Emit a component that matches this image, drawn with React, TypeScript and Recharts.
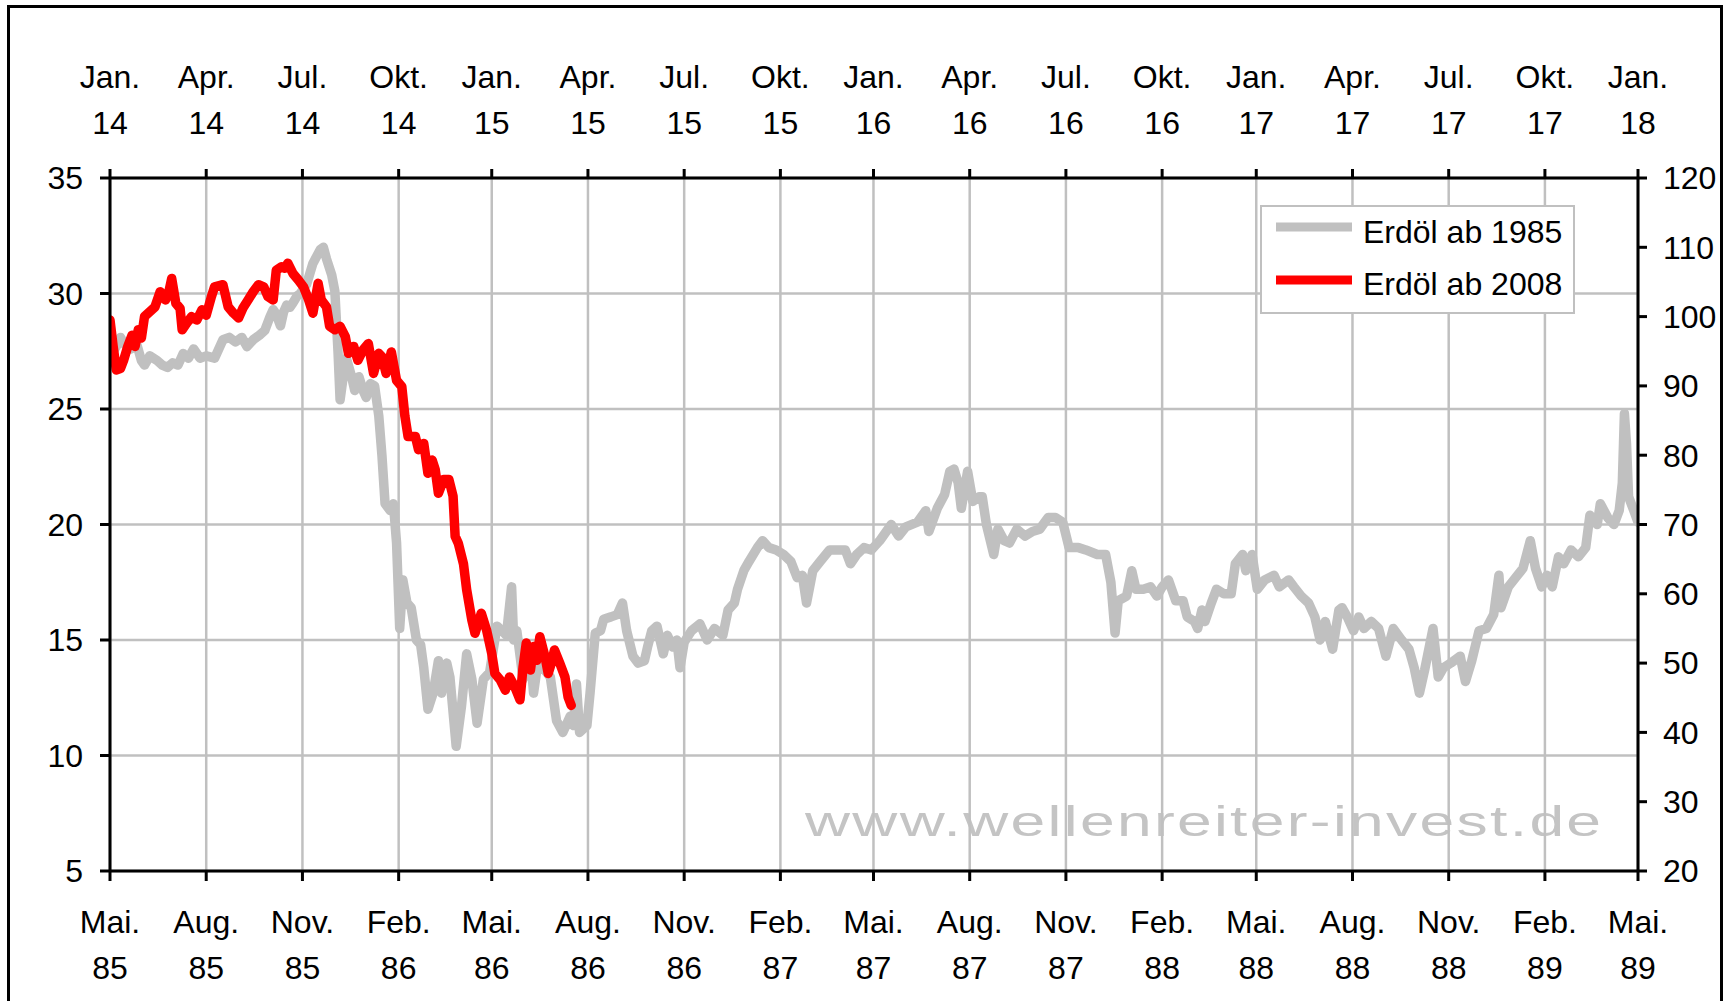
import React from "react";
import { LineChart, Line, XAxis, YAxis, CartesianGrid, Legend } from "recharts";

const FONT = '"Liberation Sans", Arial, Helvetica, sans-serif';
const WIDTH = 1729;
const HEIGHT = 1001;

// quarterly ticks, in days after the first tick (Mai 85 below, Jan. 14 on top)
const TICK_DAYS = [0, 92, 184, 276, 365, 457, 549, 641, 730, 822, 914, 1006, 1096, 1188, 1280, 1372, 1461];
const BOTTOM_MONTHS = ["Mai.", "Aug.", "Nov.", "Feb.", "Mai.", "Aug.", "Nov.", "Feb.", "Mai.", "Aug.", "Nov.", "Feb.", "Mai.", "Aug.", "Nov.", "Feb.", "Mai."];
const BOTTOM_YEARS = ["85", "85", "85", "86", "86", "86", "86", "87", "87", "87", "87", "88", "88", "88", "88", "89", "89"];
const TOP_MONTHS = ["Jan.", "Apr.", "Jul.", "Okt.", "Jan.", "Apr.", "Jul.", "Okt.", "Jan.", "Apr.", "Jul.", "Okt.", "Jan.", "Apr.", "Jul.", "Okt.", "Jan."];
const TOP_YEARS = ["14", "14", "14", "14", "15", "15", "15", "15", "16", "16", "16", "16", "17", "17", "17", "17", "18"];
const LEFT_TICKS = [5, 10, 15, 20, 25, 30, 35];
const RIGHT_TICKS = [20, 30, 40, 50, 60, 70, 80, 90, 100, 110, 120];

// Erdöl ab 1985 (left axis), day offsets from 1 May 1985
const OIL85_DAYS = [
  0, 6, 10, 14, 20, 25, 30, 33, 38, 45,
  50, 55, 60, 65, 70, 75, 80, 86, 92, 100,
  104, 108, 114, 120, 126, 131, 137, 143, 148, 153,
  156, 159, 163, 166, 169, 172, 175, 179, 182, 188,
  194, 201, 204, 207, 212, 215, 218, 220, 223, 226,
  231, 234, 238, 242, 245, 249, 253, 257, 260, 263,
  268, 271, 274, 277, 280, 284, 288, 293, 297, 300,
  304, 309, 314, 317, 322, 325, 331, 336, 341, 346,
  351, 357, 363, 370, 375, 379, 384, 386, 389, 395,
  402, 405, 410, 414, 421, 427, 433, 440, 443, 446,
  449, 456, 459, 464, 469, 472, 479, 485, 490, 494,
  500, 505, 511, 514, 518, 523, 529, 533, 538, 542,
  545, 549, 556, 564, 571, 578, 586, 591, 597, 600,
  606, 611, 619, 624, 630, 637, 644, 651, 657, 662,
  666, 672, 679, 688, 695, 703, 708, 714, 721, 728,
  736, 747, 754, 761, 772, 780, 783, 791, 798, 803,
  807, 811, 814, 820, 825, 831, 834, 838, 845, 849,
  855, 860, 867, 875, 882, 889, 897, 904, 911, 917,
  926, 933, 944, 952, 957, 961, 964, 972, 977, 981,
  988, 995, 1001, 1006, 1012, 1019, 1026, 1030, 1037, 1040,
  1044, 1047, 1053, 1058, 1065, 1072, 1076, 1083, 1086, 1092,
  1097, 1104, 1113, 1118, 1127, 1132, 1139, 1146, 1152, 1157,
  1162, 1169, 1175, 1178, 1183, 1189, 1194, 1199, 1206, 1213,
  1220, 1227, 1235, 1242, 1247, 1252, 1257, 1265, 1270, 1275,
  1282, 1291, 1296, 1302, 1309, 1316, 1323, 1328, 1330, 1337,
  1344, 1351, 1358, 1363, 1369, 1374, 1379, 1385, 1390, 1397,
  1404, 1411, 1415, 1422, 1425, 1432, 1438, 1443, 1446, 1448,
  1450, 1452, 1457, 1461,
];
const OIL85_VALUES = [
  27.3, 27.7, 28.1, 27.8, 27.6, 27.9, 27.1, 26.9, 27.3, 27.1,
  26.9, 26.8, 27.0, 26.9, 27.4, 27.2, 27.6, 27.2, 27.3, 27.2,
  27.6, 28.0, 28.1, 27.9, 28.1, 27.7, 28.0, 28.2, 28.4, 29.0,
  29.3, 29.1, 28.6, 29.2, 29.5, 29.4, 29.6, 29.9, 30.0, 30.4,
  31.3, 31.9, 32.0, 31.5, 30.8, 30.1, 27.5, 25.4, 26.4, 27.2,
  26.4, 25.8, 26.4, 25.8, 25.5, 26.1, 26.0, 24.7, 23.0, 20.9,
  20.6, 20.9, 19.2, 15.5, 17.6, 16.6, 16.4, 15.0, 14.8, 13.8,
  12.0, 12.7, 14.1, 12.7, 14.0, 13.4, 10.4, 12.1, 14.4, 13.3,
  11.4, 13.3, 13.6, 15.6, 15.4, 15.2, 17.3, 15.0, 15.4, 13.3,
  14.4, 12.7, 14.3, 13.8, 13.4, 11.5, 11.0, 11.7, 11.3, 13.1,
  11.0, 11.3, 12.7, 15.3, 15.4, 15.9, 16.0, 16.1, 16.6, 15.4,
  14.3, 14.0, 14.1, 14.7, 15.4, 15.6, 14.4, 15.2, 14.7, 15.0,
  13.8, 14.9, 15.4, 15.7, 15.0, 15.5, 15.2, 16.3, 16.6, 17.2,
  18.0, 18.4, 19.0, 19.3, 19.0, 18.9, 18.7, 18.4, 17.7, 17.8,
  16.6, 18.0, 18.4, 18.9, 18.9, 18.9, 18.3, 18.7, 19.0, 18.9,
  19.3, 20.0, 19.5, 19.9, 20.1, 20.6, 19.7, 20.7, 21.3, 22.3,
  22.4, 21.8, 20.7, 22.3, 21.0, 21.2, 21.2, 20.0, 18.7, 19.8,
  19.3, 19.2, 19.8, 19.5, 19.7, 19.8, 20.3, 20.3, 20.1, 19.0,
  19.0, 18.9, 18.7, 18.7, 17.5, 15.3, 16.7, 16.9, 18.0, 17.2,
  17.2, 17.3, 16.9, 17.3, 17.6, 16.7, 16.7, 16.0, 15.8, 15.5,
  16.3, 15.8, 16.6, 17.2, 17.0, 17.0, 18.3, 18.7, 18.0, 18.7,
  17.2, 17.6, 17.8, 17.3, 17.6, 17.3, 16.9, 16.6, 16.0, 15.0,
  15.8, 14.6, 16.3, 16.4, 16.0, 15.4, 16.0, 15.5, 15.8, 15.5,
  14.3, 15.5, 15.0, 14.6, 13.8, 12.7, 13.7, 15.5, 13.4, 13.8,
  14.0, 14.3, 13.2, 14.1, 15.4, 15.5, 16.1, 17.8, 16.4, 17.3,
  17.7, 18.1, 19.3, 18.1, 17.3, 17.8, 17.3, 18.6, 18.3, 18.9,
  18.6, 19.0, 20.4, 20.0, 20.9, 20.3, 20.0, 20.6, 21.8, 24.8,
  23.5, 21.2, 20.6, 20.1,
];

// Erdöl ab 2008 (right axis), day offsets from 1 Jan 2014
const OIL08_DAYS = [
  0, 3, 6, 10, 13, 17, 21, 24, 27, 30,
  33, 38, 43, 48, 53, 56, 59, 63, 67, 69,
  73, 78, 83, 88, 92, 97, 100, 108, 113, 118,
  123, 127, 132, 137, 142, 147, 151, 156, 159, 164,
  167, 170, 175, 180, 185, 190, 194, 199, 202, 207,
  210, 215, 220, 225, 228, 233, 237, 242, 247, 252,
  257, 260, 264, 269, 274, 279, 282, 285, 292, 295,
  300, 304, 308, 311, 314, 319, 324, 328, 330, 333,
  338, 341, 346, 349, 352, 355, 360, 365, 368, 373,
  378, 382, 387, 392, 395, 398, 402, 405, 408, 411,
  416, 419, 422, 425, 430, 435, 438, 441,
];
const OIL08_VALUES = [
  99.5, 95.7, 92.3, 92.5, 93.7, 95.7, 97.3, 95.7, 98.1, 96.9,
  100.0, 100.7, 101.4, 103.6, 102.4, 103.4, 105.5, 101.9, 101.2, 98.1,
  99.0, 100.0, 99.5, 101.0, 100.2, 102.9, 104.3, 104.6, 101.4, 100.5,
  99.8, 101.2, 102.4, 103.6, 104.6, 104.3, 102.9, 102.4, 106.7, 107.2,
  107.0, 107.7, 106.2, 105.3, 104.3, 102.4, 100.5, 104.8, 102.4, 101.4,
  98.6, 98.1, 98.6, 97.1, 94.7, 95.7, 93.7, 95.2, 96.1, 91.8,
  94.7, 94.2, 91.8, 94.9, 90.8, 89.9, 85.6, 82.7, 82.7, 80.8,
  81.7, 77.4, 79.3, 77.9, 74.5, 76.5, 76.5, 74.1, 68.3, 67.3,
  64.3, 60.6, 56.2, 54.3, 55.8, 57.2, 54.8, 51.4, 48.5, 47.6,
  46.1, 48.0, 46.6, 44.7, 49.5, 52.9, 49.0, 52.4, 50.4, 53.8,
  50.9, 48.5, 50.0, 51.9, 50.0, 48.0, 45.1, 43.9,
];

const oil85 = OIL85_DAYS.map((d, i) => ({ d, v: OIL85_VALUES[i] }));
const oil08 = OIL08_DAYS.map((d, i) => ({ d, v: OIL08_VALUES[i] }));

const AXIS = { stroke: "#000", strokeWidth: 3 };
const TICK_TEXT = { fill: "#000", fontSize: 32, fontFamily: FONT };

function BottomTick(props: any) {
  const { x, y, payload } = props;
  const i = TICK_DAYS.indexOf(payload.value);
  return (
    <text x={x} y={y} textAnchor="middle" fill="#000" fontSize={32} fontFamily={FONT}>
      <tspan x={x} dy={52}>{BOTTOM_MONTHS[i]}</tspan>
      <tspan x={x} dy={46}>{BOTTOM_YEARS[i]}</tspan>
    </text>
  );
}

function TopTick(props: any) {
  const { x, y, payload } = props;
  const i = TICK_DAYS.indexOf(payload.value);
  return (
    <text x={x} y={y} textAnchor="middle" fill="#000" fontSize={32} fontFamily={FONT}>
      <tspan x={x} dy={-81}>{TOP_MONTHS[i]}</tspan>
      <tspan x={x} dy={46}>{TOP_YEARS[i]}</tspan>
    </text>
  );
}

function LegendBox({ payload }: any) {
  return (
    <svg width={315} height={109} style={{ display: "block" }}>
      <rect x={1} y={1} width={313} height={107} fill="#fff" stroke="#c0c0c0" strokeWidth={2} />
      {(payload || []).map((entry: any, i: number) => (
        <g key={entry.value}>
          <line x1={16} x2={92} y1={22 + i * 53} y2={22 + i * 53} stroke={entry.color} strokeWidth={9} />
          <text x={103} y={38 + i * 52} fontSize={32} fontFamily={FONT} fill="#000">
            {entry.value}
          </text>
        </g>
      ))}
    </svg>
  );
}

export default function App() {
  return (
    <div style={{ position: "fixed", left: 0, top: 0, width: WIDTH, height: HEIGHT, overflow: "hidden", background: "#fff" }}>
      <div
        style={{
          position: "absolute",
          left: 7,
          top: 5,
          width: 1716,
          height: 1200,
          border: "3px solid #000",
          boxSizing: "border-box",
        }}
      />
      <svg width={WIDTH} height={HEIGHT} style={{ position: "absolute", left: 0, top: 0 }}>
        {/* watermark, stretched wide like the original */}
        <g transform="translate(805 836) scale(1.45 1)">
          <text
            x={0}
            y={0}
            textLength={549}
            lengthAdjust="spacing"
            fontSize={43}
            fontFamily={FONT}
            fill="#c4c4c4"
          >
            www.wellenreiter-invest.de
          </text>
        </g>
      </svg>
      <div style={{ position: "absolute", left: 0, top: 0 }}>
        <LineChart width={WIDTH} height={HEIGHT} margin={{ top: 0, right: 0, bottom: 0, left: 0 }}>
          <CartesianGrid xAxisId="bottom" yAxisId="left" stroke="#c0c0c0" strokeWidth={2.5} />
          <XAxis
            xAxisId="bottom"
            type="number"
            dataKey="d"
            domain={[0, 1461]}
            ticks={TICK_DAYS}
            interval={0}
            orientation="bottom"
            height={130}
            tickSize={10}
            tickMargin={0}
            tick={BottomTick}
            axisLine={AXIS}
            tickLine={AXIS}
            allowDataOverflow
          />
          <XAxis
            xAxisId="top"
            type="number"
            dataKey="d"
            domain={[0, 1461]}
            ticks={TICK_DAYS}
            interval={0}
            orientation="top"
            height={178}
            tickSize={9}
            tickMargin={0}
            tick={TopTick}
            axisLine={AXIS}
            tickLine={AXIS}
            allowDataOverflow
          />
          <YAxis
            yAxisId="left"
            type="number"
            domain={[5, 35]}
            ticks={LEFT_TICKS}
            interval={0}
            width={110}
            tickSize={10}
            tickMargin={17}
            tick={TICK_TEXT}
            axisLine={AXIS}
            tickLine={AXIS}
            allowDataOverflow
          />
          <YAxis
            yAxisId="right"
            orientation="right"
            type="number"
            domain={[20, 120]}
            ticks={RIGHT_TICKS}
            interval={0}
            width={91}
            tickSize={9}
            tickMargin={16}
            tick={TICK_TEXT}
            axisLine={AXIS}
            tickLine={AXIS}
            allowDataOverflow
          />
          <Legend
            layout="vertical"
            align="center"
            verticalAlign="middle"
            wrapperStyle={{ left: 1260, top: 205, width: 315, height: 109 }}
            content={LegendBox}
          />
          <Line
            xAxisId="bottom"
            yAxisId="left"
            data={oil85}
            dataKey="v"
            name="Erdöl ab 1985"
            stroke="#c0c0c0"
            strokeWidth={9.5}
            strokeLinejoin="round"
            strokeLinecap="round"
            dot={false}
            activeDot={false}
            isAnimationActive={false}
          />
          <Line
            xAxisId="top"
            yAxisId="right"
            data={oil08}
            dataKey="v"
            name="Erdöl ab 2008"
            stroke="#ff0000"
            strokeWidth={9.5}
            strokeLinejoin="round"
            strokeLinecap="round"
            dot={false}
            activeDot={false}
            isAnimationActive={false}
          />
        </LineChart>
      </div>
    </div>
  );
}
